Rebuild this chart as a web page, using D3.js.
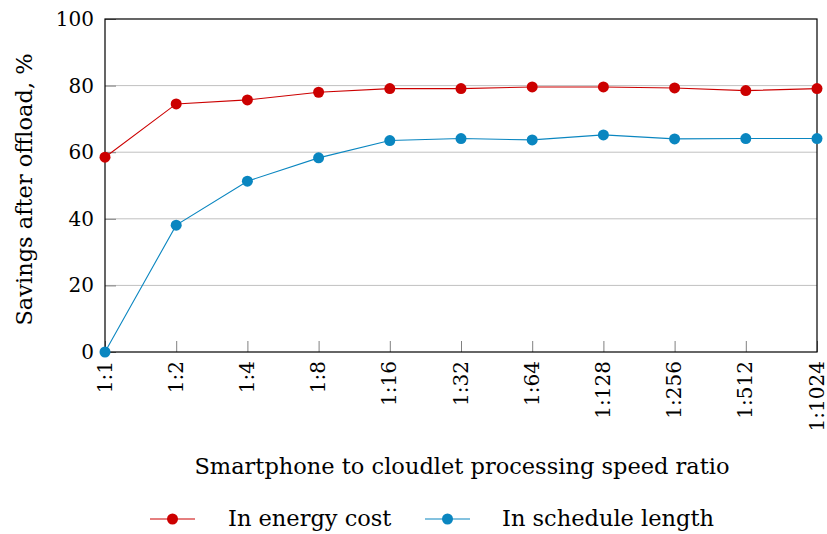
<!DOCTYPE html>
<html>
<head>
<meta charset="utf-8">
<script src="https://cdn.jsdelivr.net/npm/d3@7"></script>
<style>
  body { margin: 0; background: #fff; }
  svg text { font-family: "DejaVu Serif", serif; fill: #000; }
</style>
</head>
<body>
<svg id="chart" width="827" height="534"></svg>
<script>
const categories = ["1:1","1:2","1:4","1:8","1:16","1:32","1:64","1:128","1:256","1:512","1:1024"];
const energyCost = [58.5, 74.5, 75.7, 78.0, 79.1, 79.1, 79.6, 79.6, 79.3, 78.5, 79.1];
const scheduleLength = [0, 38.1, 51.3, 58.3, 63.5, 64.1, 63.7, 65.2, 64.0, 64.1, 64.1];
const yTicks = [0, 20, 40, 60, 80, 100];
const seriesNames = ["In energy cost", "In schedule length"];
const seriesColors = ["#cc0000", "#0a86c0"];

const svg = d3.select("#chart");
const mLeft = 105, mRight = 817, mTop = 19, mBottom = 352;
const fs = 20;     // tick labels
const fsT = 22.5;  // titles & legend
const ff = "DejaVu Serif";

const x = d3.scalePoint().domain(categories).range([mLeft, mRight]);
const y = d3.scaleLinear().domain([0, 100]).range([mBottom, mTop]);

// grid
svg.append("g").selectAll("line").data(yTicks.filter(d => d > 0 && d < 100)).join("line")
  .attr("x1", mLeft).attr("x2", mRight)
  .attr("y1", d => y(d)).attr("y2", d => y(d))
  .attr("stroke", "#c0c0c0").attr("stroke-width", 1);

// y axis ticks (inside)
const yAxis = d3.axisLeft(y).tickValues(yTicks).tickSize(-11).tickPadding(10).tickFormat(d3.format("d"));
const gy = svg.append("g").attr("transform", `translate(${mLeft},0)`).call(yAxis);
gy.select(".domain").remove();
gy.selectAll(".tick line").attr("stroke", "#808080");
gy.selectAll(".tick text").attr("font-size", fs).attr("font-family", ff).attr("dx", "-1");

// x axis ticks (inside)
const xAxis = d3.axisBottom(x).tickSize(-11).tickPadding(0);
const gx = svg.append("g").attr("transform", `translate(0,${mBottom})`).call(xAxis);
gx.select(".domain").remove();
gx.selectAll(".tick line").attr("stroke", "#808080");
gx.selectAll(".tick text")
  .attr("font-size", fs).attr("font-family", ff)
  .attr("text-anchor", "end")
  .attr("transform", "rotate(-90)")
  .attr("x", -9).attr("y", -1).attr("dy", "0.35em");

// frame
svg.append("rect").attr("x", mLeft).attr("y", mTop).attr("width", mRight - mLeft).attr("height", mBottom - mTop)
  .attr("fill", "none").attr("stroke", "#000").attr("stroke-width", 1.2);

// series
const series = [energyCost, scheduleLength];
const line = d3.line().x((d, i) => x(categories[i])).y(d => y(d));
series.forEach((vals, k) => {
  svg.append("path").datum(vals).attr("d", line)
    .attr("fill", "none").attr("stroke", seriesColors[k]).attr("stroke-width", 1.1);
  svg.append("g").selectAll("circle").data(vals).join("circle")
    .attr("cx", (d, i) => x(categories[i])).attr("cy", d => y(d)).attr("r", 5.5)
    .attr("fill", seriesColors[k]);
});

// axis titles
svg.append("text").attr("x", 462).attr("y", 466).attr("dy", "0.35em")
  .attr("text-anchor", "middle").attr("font-size", fsT).attr("font-family", ff)
  .text("Smartphone to cloudlet processing speed ratio");
svg.append("text").attr("transform", `translate(24,189.5) rotate(-90)`)
  .attr("dy", "0.35em").attr("text-anchor", "middle").attr("font-size", fsT).attr("font-family", ff)
  .text("Savings after offload, %");

// legend
const legendItems = [
  { x0: 150, x1: 195, tx: 228 },
  { x0: 425, x1: 470, tx: 502 }
];
const ly = 519;
legendItems.forEach((it, k) => {
  const g = svg.append("g");
  g.append("line").attr("x1", it.x0).attr("x2", it.x1).attr("y1", ly).attr("y2", ly)
    .attr("stroke", seriesColors[k]).attr("stroke-width", 1.1);
  g.append("circle").attr("cx", (it.x0 + it.x1) / 2).attr("cy", ly).attr("r", 5.5).attr("fill", seriesColors[k]);
  g.append("text").attr("x", it.tx).attr("y", ly).attr("dy", "0.3em").attr("font-size", fsT).attr("font-family", ff).text(seriesNames[k]);
});
</script>
</body>
</html>
